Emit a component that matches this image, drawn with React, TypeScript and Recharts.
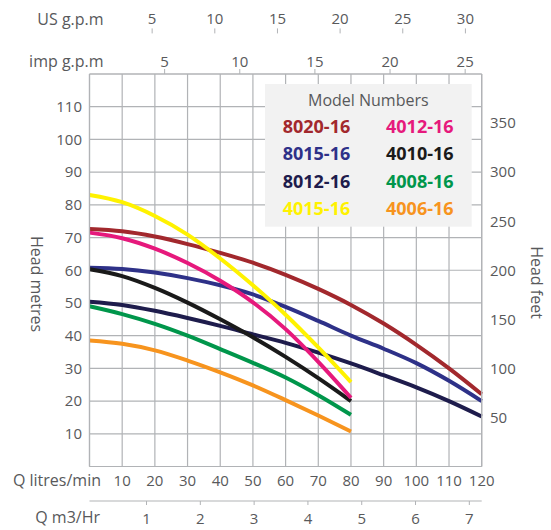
import React from "react";
import { LineChart, Line, XAxis, YAxis, CartesianGrid } from "recharts";

// flow in litres/min, head in metres
const flowLpm = [0, 10, 20, 30, 40, 50, 60, 70, 80, 90, 100, 110, 120];

const head8020 = [72.6, 71.9, 70.3, 68.0, 65.3, 62.3, 58.6, 54.3, 49.4, 43.7, 37.2, 30.0, 22.1];
const head8015 = [60.8, 60.4, 59.3, 57.6, 55.4, 52.6, 48.8, 44.5, 40.0, 36.0, 31.6, 26.2, 20.0];
const head8012 = [50.4, 49.4, 47.6, 45.4, 43.0, 40.4, 37.8, 34.8, 31.5, 27.9, 24.2, 20.0, 15.3];
const head4015 = [83.0, 80.8, 76.6, 70.9, 63.6, 55.4, 46.4, 36.4, 25.8];
const head4012 = [71.5, 69.8, 66.6, 62.2, 56.8, 50.2, 42.0, 32.0, 21.0];
const head4010 = [60.3, 58.2, 54.6, 50.1, 45.0, 39.5, 33.5, 27.0, 20.0];
const head4008 = [49.0, 46.6, 43.6, 40.0, 35.9, 31.7, 27.2, 21.8, 15.8];
const head4006 = [38.5, 37.5, 35.5, 32.4, 28.8, 24.8, 20.3, 15.6, 10.7];

// legend order (two columns, row by row)
const modelNames = ["8020-16", "4012-16", "8015-16", "4010-16", "8012-16", "4008-16", "4015-16", "4006-16"];

const lpmTicks = [10, 20, 30, 40, 50, 60, 70, 80, 90, 100, 110, 120];
const m3hTicks = [1, 2, 3, 4, 5, 6, 7];
const usGpmTicks = [5, 10, 15, 20, 25, 30];
const impGpmTicks = [5, 10, 15, 20, 25];
const metreTicks = [10, 20, 30, 40, 50, 60, 70, 80, 90, 100, 110];
const feetTicks = [50, 100, 150, 200, 250, 300, 350];

const headByModel: Record<string, number[]> = {
  "8020-16": head8020,
  "8015-16": head8015,
  "8012-16": head8012,
  "4015-16": head4015,
  "4012-16": head4012,
  "4010-16": head4010,
  "4008-16": head4008,
  "4006-16": head4006,
};

const colors: Record<string, string> = {
  "8020-16": "#a2282d",
  "4012-16": "#e6197c",
  "8015-16": "#2e3188",
  "4010-16": "#1a1a1a",
  "8012-16": "#1e1c4c",
  "4008-16": "#00964b",
  "4015-16": "#fff200",
  "4006-16": "#f7941e",
};

// bottom to top
const drawOrder = ["8012-16", "8015-16", "8020-16", "4006-16", "4008-16", "4010-16", "4012-16", "4015-16"];

const rows = flowLpm.map((q, i) => {
  const row: Record<string, number | undefined> = { q };
  modelNames.forEach((m) => {
    row[m] = headByModel[m][i];
  });
  return row;
});

const toUsGpm = (d: any) => d.q / 3.785;
const toImpGpm = (d: any) => d.q / 4.546;
const toM3h = (d: any) => (d.q * 60) / 1000;

const FONT = "'Open Sans', sans-serif";
const TEXT = "#58595b";
const GRID = "#b1b3b6";
const tickStyle = { fill: TEXT, fontSize: 15, fontFamily: FONT };

export default function App() {
  return (
    <div style={{ padding: "8px 0 0 8px" }}>
      <style>{`body { margin: 0; }`}</style>
      <div style={{ position: "relative", width: 535, height: 522 }}>
        <LineChart width={535} height={522} data={rows} margin={{ top: 0, right: 0, bottom: 8, left: 0 }}>
          <CartesianGrid xAxisId="lpm" yAxisId="m" stroke={GRID} strokeWidth={1.2} />
          <XAxis
            xAxisId="lpm"
            dataKey="q"
            type="number"
            orientation="bottom"
            domain={[0, 120]}
            ticks={lpmTicks}
            interval={0}
            height={34.5}
            tickLine={false}
            tickSize={6}
            tickMargin={3}
            axisLine={{ stroke: GRID, strokeWidth: 1.2 }}
            tick={tickStyle}
          />
          <XAxis
            xAxisId="m3"
            dataKey={toM3h}
            type="number"
            orientation="bottom"
            domain={[-0.06, 7.23]}
            allowDataOverflow
            ticks={m3hTicks}
            interval={0}
            height={21}
            tickSize={4}
            tickMargin={8}
            axisLine={{ stroke: GRID, strokeWidth: 1.2 }}
            tickLine={{ stroke: GRID }}
            tick={tickStyle}
          />
          <XAxis
            xAxisId="imp"
            dataKey={toImpGpm}
            type="number"
            orientation="top"
            domain={[0, 26.1]}
            allowDataOverflow
            ticks={impGpmTicks}
            interval={0}
            height={40.6}
            tickSize={5}
            tickMargin={2}
            axisLine={{ stroke: GRID, strokeWidth: 1.2 }}
            tickLine={{ stroke: GRID }}
            tick={tickStyle}
          />
          <XAxis
            xAxisId="us"
            dataKey={toUsGpm}
            type="number"
            orientation="top"
            domain={[0, 31.3]}
            allowDataOverflow
            ticks={usGpmTicks}
            interval={0}
            height={25.4}
            tickSize={5}
            tickMargin={4}
            axisLine={false}
            tickLine={{ stroke: GRID }}
            tick={tickStyle}
          />
          <YAxis
            yAxisId="m"
            type="number"
            domain={[0, 120]}
            ticks={metreTicks}
            interval={0}
            width={81.5}
            tickLine={false}
            tickSize={6}
            tickMargin={1.5}
            axisLine={{ stroke: GRID, strokeWidth: 1.2 }}
            tick={tickStyle}
          />
          <YAxis
            yAxisId="ft"
            type="number"
            orientation="right"
            domain={[0, 400]}
            allowDataOverflow
            ticks={feetTicks}
            interval={0}
            width={61.3}
            tickLine={false}
            tickSize={6}
            tickMargin={2.3}
            axisLine={{ stroke: GRID, strokeWidth: 1.2 }}
            tick={{ ...tickStyle, textAnchor: "start" }}
          />
          {drawOrder.map((m) => (
            <Line
              key={m}
              xAxisId="lpm"
              yAxisId="m"
              type="monotone"
              dataKey={m}
              stroke={colors[m]}
              strokeWidth={4}
              dot={false}
              activeDot={false}
              isAnimationActive={false}
            />
          ))}
        </LineChart>

        <svg
          width={543}
          height={522}
          style={{ position: "absolute", left: 0, top: 0, pointerEvents: "none" }}
          fontFamily={FONT}
        >
          <text x={95.6} y={16.7} textAnchor="end" fontSize={16} fill={TEXT}>US g.p.m</text>
          <text x={95.6} y={59} textAnchor="end" fontSize={16} fill={TEXT}>imp g.p.m</text>
          <text x={93} y={478.4} textAnchor="end" fontSize={16} fill={TEXT}>Q litres/min</text>
          <text x={92} y={515.4} textAnchor="end" fontSize={16} fill={TEXT}>Q m3/Hr</text>
          <text transform="translate(28.7,276) rotate(90)" y={5.7} textAnchor="middle" fontSize={16} fill={TEXT}>
            Head metres
          </text>
          <text transform="translate(528.5,274.5) rotate(90)" y={5.7} textAnchor="middle" fontSize={16} fill={TEXT}>
            Head feet
          </text>

          <rect x={257} y={76} width={206.7} height={142.7} fill="#f2f2f2" />
          <text x={360.3} y={98.4} textAnchor="middle" fontSize={16} fill={TEXT}>Model Numbers</text>
          {modelNames.map((m, i) => (
            <text
              key={m}
              x={i % 2 === 0 ? 274.7 : 378}
              y={125.1 + Math.floor(i / 2) * 27.2}
              fontSize={18}
              fontWeight={700}
              fill={colors[m]}
            >
              {m}
            </text>
          ))}
        </svg>
      </div>
    </div>
  );
}
